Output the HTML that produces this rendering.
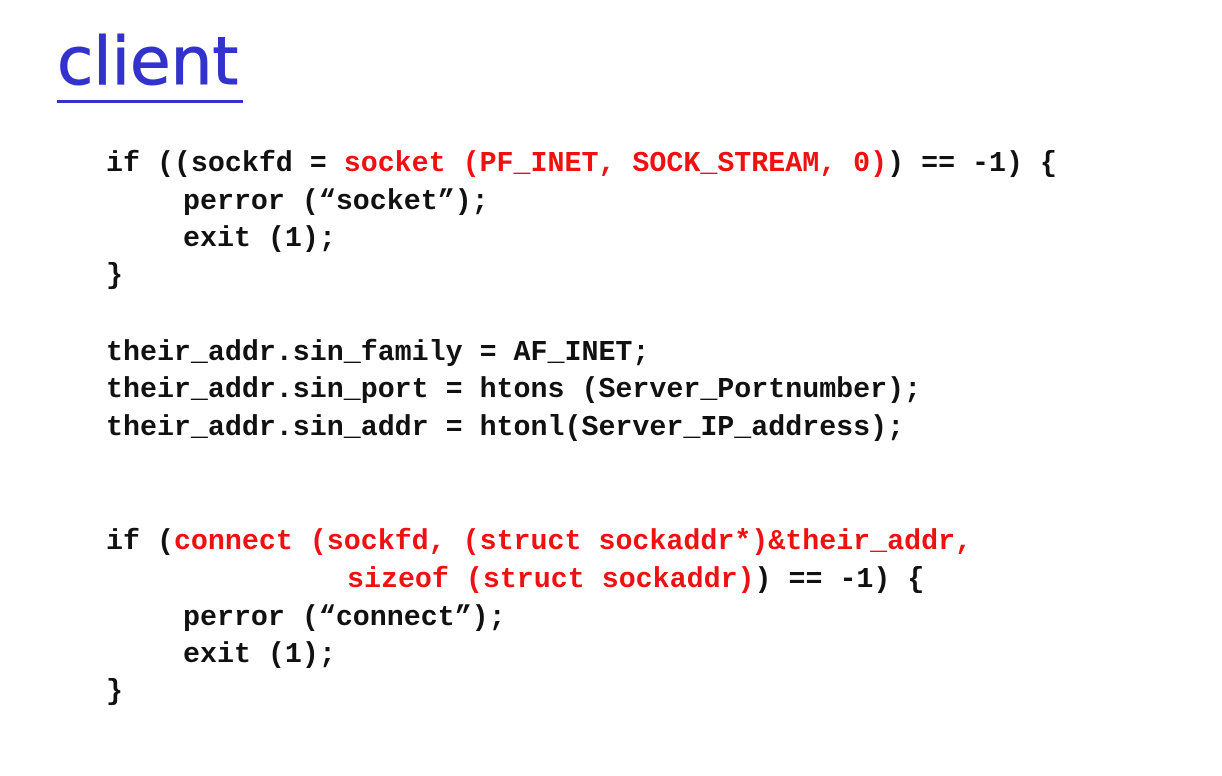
<!DOCTYPE html>
<html><head><meta charset="utf-8"><style>
body{margin:0;width:1222px;height:776px;background:#fff;position:relative;overflow:hidden}
.t{position:absolute;left:57px;top:29px;font-family:"Comic Sans MS","DejaVu Sans",sans-serif;font-size:66px;color:#3333cc;line-height:1;-webkit-text-stroke:1px #3333cc}
.u{position:absolute;left:57px;top:100px;width:186px;height:3px;background:#3333cc}
.l{position:absolute;font-family:"Liberation Mono",monospace;font-weight:bold;font-size:28.3px;line-height:28px;white-space:pre;color:#111}
.r{color:#ee1111}
</style></head><body>
<div class="t">client</div><div class="u"></div>
<div class="l" style="left:106px;top:150px">if ((sockfd = <span class="r">socket (PF_INET, SOCK_STREAM, 0)</span>) == -1) {</div>
<div class="l" style="left:183px;top:188px">perror (“socket”);</div>
<div class="l" style="left:183px;top:225px">exit (1);</div>
<div class="l" style="left:106px;top:262px">}</div>
<div class="l" style="left:106px;top:339px">their_addr.sin_family = AF_INET;</div>
<div class="l" style="left:106px;top:376px">their_addr.sin_port = htons (Server_Portnumber);</div>
<div class="l" style="left:106px;top:414px">their_addr.sin_addr = htonl(Server_IP_address);</div>
<div class="l" style="left:106px;top:528px">if (<span class="r">connect (sockfd, (struct sockaddr*)&amp;their_addr,</span></div>
<div class="l" style="left:347px;top:566px"><span class="r">sizeof (struct sockaddr)</span>) == -1) {</div>
<div class="l" style="left:183px;top:604px">perror (“connect”);</div>
<div class="l" style="left:183px;top:641px">exit (1);</div>
<div class="l" style="left:106px;top:678px">}</div>
</body></html>
